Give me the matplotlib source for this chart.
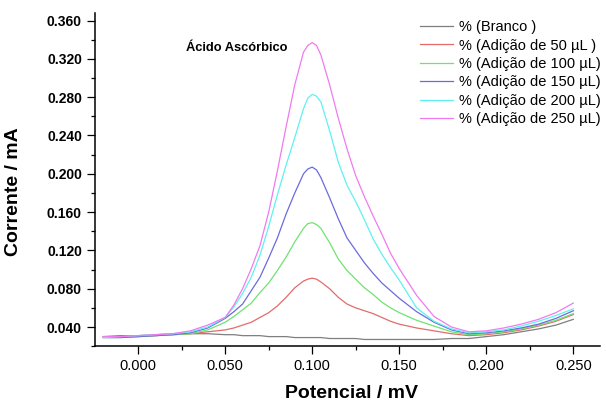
import matplotlib
matplotlib.use('Agg')
import matplotlib.pyplot as plt
from matplotlib.ticker import MultipleLocator, FormatStrFormatter

plt.rcParams['font.family'] = ['Liberation Sans', 'DejaVu Sans']

# potential (mV)
potencial = [-0.02, -0.01, 0.0, 0.01, 0.02, 0.03, 0.04, 0.05, 0.055, 0.06,
             0.065, 0.07, 0.075, 0.08, 0.085, 0.09, 0.095, 0.0975, 0.10, 0.1025,
             0.105, 0.11, 0.115, 0.12, 0.125, 0.13, 0.135, 0.14, 0.145, 0.15,
             0.16, 0.17, 0.18, 0.19, 0.20, 0.21, 0.22, 0.23, 0.24, 0.25]

# current (mA) for each addition
branco = [0.030, 0.031, 0.031, 0.032, 0.033, 0.033, 0.033, 0.032, 0.032, 0.031,
          0.031, 0.031, 0.030, 0.030, 0.030, 0.029, 0.029, 0.029, 0.029, 0.029,
          0.029, 0.028, 0.028, 0.028, 0.028, 0.027, 0.027, 0.027, 0.027, 0.027,
          0.027, 0.027, 0.028, 0.028, 0.030, 0.032, 0.035, 0.038, 0.042, 0.048]
add_50 = [0.030, 0.030, 0.030, 0.031, 0.032, 0.033, 0.035, 0.037, 0.039, 0.042,
          0.045, 0.050, 0.055, 0.062, 0.071, 0.081, 0.088, 0.090, 0.091, 0.090,
          0.087, 0.080, 0.071, 0.064, 0.060, 0.057, 0.054, 0.050, 0.046, 0.043,
          0.039, 0.036, 0.033, 0.031, 0.032, 0.034, 0.037, 0.041, 0.046, 0.053]
add_100 = [0.029, 0.029, 0.030, 0.031, 0.032, 0.033, 0.037, 0.045, 0.051, 0.058,
           0.065, 0.076, 0.086, 0.099, 0.113, 0.129, 0.143, 0.148, 0.149, 0.147,
           0.143, 0.128, 0.111, 0.099, 0.090, 0.081, 0.074, 0.066, 0.060, 0.055,
           0.047, 0.041, 0.035, 0.032, 0.033, 0.035, 0.038, 0.042, 0.047, 0.054]
add_150 = [0.029, 0.029, 0.030, 0.031, 0.032, 0.034, 0.039, 0.049, 0.056, 0.064,
           0.078, 0.092, 0.112, 0.133, 0.158, 0.180, 0.200, 0.205, 0.207, 0.204,
           0.196, 0.175, 0.153, 0.133, 0.120, 0.107, 0.096, 0.086, 0.078, 0.070,
           0.056, 0.045, 0.037, 0.033, 0.034, 0.036, 0.039, 0.043, 0.049, 0.057]
add_200 = [0.029, 0.030, 0.031, 0.032, 0.033, 0.035, 0.040, 0.050, 0.061, 0.075,
           0.092, 0.115, 0.145, 0.178, 0.209, 0.238, 0.268, 0.279, 0.283, 0.281,
           0.275, 0.245, 0.212, 0.188, 0.171, 0.152, 0.132, 0.116, 0.102, 0.089,
           0.060, 0.046, 0.038, 0.034, 0.035, 0.037, 0.041, 0.046, 0.052, 0.059]
add_250 = [0.030, 0.030, 0.031, 0.032, 0.033, 0.036, 0.042, 0.050, 0.063, 0.080,
           0.101, 0.125, 0.160, 0.203, 0.249, 0.293, 0.327, 0.334, 0.337, 0.334,
           0.324, 0.293, 0.258, 0.226, 0.198, 0.176, 0.156, 0.137, 0.117, 0.101,
           0.073, 0.051, 0.040, 0.035, 0.036, 0.039, 0.043, 0.048, 0.055, 0.065]

labels = ['% (Branco )', '% (Adição de 50 µL )', '% (Adição de 100 µL)',
          '% (Adição de 150 µL)', '% (Adição de 200 µL)', '% (Adição de 250 µL)']
colors = ['#7f7f7f', '#e36b6b', '#6fe36f', '#6b6bdd', '#5ff0f0', '#f07af0']
series = [branco, add_50, add_100, add_150, add_200, add_250]

fig = plt.figure(figsize=(6.06, 4.03), dpi=100)
ax = fig.add_axes([0.157, 0.141, 0.833, 0.827])

for s, c, lab in zip(series, colors, labels):
    ax.plot(potencial, s, color=c, linewidth=0.9, label=lab)

ax.set_xlim(-0.0247, 0.2653)
ax.set_ylim(0.020, 0.368)

ax.spines['top'].set_visible(False)
ax.spines['right'].set_visible(False)
ax.spines['left'].set_linewidth(1.1)
ax.spines['bottom'].set_linewidth(1.1)

ax.xaxis.set_major_locator(MultipleLocator(0.05))
ax.xaxis.set_minor_locator(MultipleLocator(0.025))
ax.yaxis.set_major_locator(MultipleLocator(0.04))
ax.yaxis.set_minor_locator(MultipleLocator(0.02))
ax.xaxis.set_major_formatter(FormatStrFormatter('%.3f'))
ax.yaxis.set_major_formatter(FormatStrFormatter('%.3f'))
ax.set_xticks([0.0, 0.05, 0.10, 0.15, 0.20, 0.25])
ax.set_yticks([0.04, 0.08, 0.12, 0.16, 0.20, 0.24, 0.28, 0.32, 0.36])

ax.tick_params(which='major', direction='out', length=5.5, width=0.9, pad=4)
ax.tick_params(which='minor', direction='out', length=3, width=0.9)
ax.tick_params(axis='x', labelsize=10.5)
ax.tick_params(axis='y', labelsize=10)
for t in ax.get_yticklabels():
    t.set_fontweight('bold')

ax.set_xlabel('Potencial / mV', fontsize=14, fontweight='bold')
ax.set_ylabel('Corrente / mA', fontsize=14, fontweight='bold')
ax.xaxis.set_label_coords(0.507, -0.115)
ax.yaxis.set_label_coords(-0.145, 0.465)

ax.text(0.0274, 0.331, 'Ácido Ascórbico', fontsize=9.3, fontweight='bold',
        ha='left', va='center')

fig.legend(loc='upper left', bbox_to_anchor=(0.693, 0.950), frameon=False,
           fontsize=10.5, handlelength=2.3, handletextpad=0.4,
           labelspacing=0.3, borderpad=0, borderaxespad=0)

fig.savefig('out.png', dpi=100)
